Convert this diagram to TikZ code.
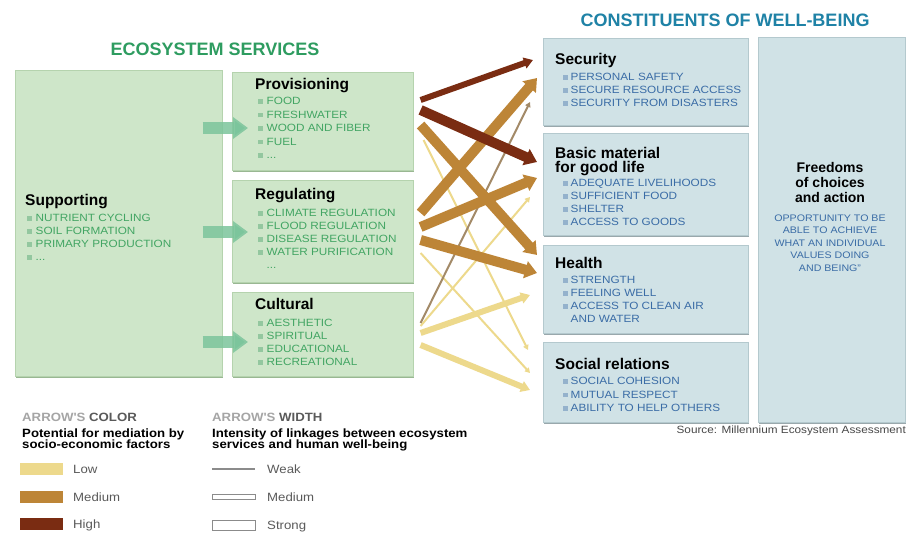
\documentclass[tikz,border=0pt]{standalone}
\usepackage{fontspec}
\setmainfont{Liberation Sans}
\newfontfamily\widefont[FakeStretch=1.12]{Liberation Sans}
\newfontfamily\legfont[FakeStretch=1.1]{Liberation Sans}
\usetikzlibrary{arrows.meta,calc,shadows}

\definecolor{gbg}{HTML}{CEE6C9}
\definecolor{gedge}{HTML}{B5D3AE}
\definecolor{gshadow}{HTML}{8FB087}
\definecolor{bbg}{HTML}{D0E2E6}
\definecolor{bedge}{HTML}{B4C9CE}
\definecolor{bshadow}{HTML}{8E9FA4}
\definecolor{gtitle}{HTML}{2E9C60}
\definecolor{btitle}{HTML}{1F82A6}
\definecolor{gtext}{HTML}{42A563}
\definecolor{gbul}{HTML}{93C79F}
\definecolor{btext}{HTML}{3A6CA6}
\definecolor{bbul}{HTML}{94B2CC}
\definecolor{garrowc}{HTML}{7CC59C}
\definecolor{lowc}{HTML}{EDD98C}
\definecolor{medc}{HTML}{BD8537}
\definecolor{highc}{HTML}{7A2C12}
\definecolor{dullc}{HTML}{A38A68}
\definecolor{leggray}{HTML}{A5A5A5}
\definecolor{legdark}{HTML}{5A5A5A}

% bullets for the item lists
\newcommand\gi{{\color{gbul}\raisebox{1.2pt}{\rule{4.5pt}{4.5pt}}}\hspace{4pt}}
\newcommand\bi{{\color{bbul}\raisebox{1.2pt}{\rule{4.5pt}{4.5pt}}}\hspace{3pt}}

\tikzset{
  gbox/.style={fill=gbg, draw=gedge, line width=0.6pt, anchor=north west, inner sep=0pt,
    drop shadow={shadow xshift=0.4pt, shadow yshift=-1.8pt, fill=gshadow, opacity=0.9}},
  bbox/.style={fill=bbg, draw=bedge, line width=0.6pt, anchor=north west, inner sep=0pt,
    drop shadow={shadow xshift=0.4pt, shadow yshift=-1.8pt, fill=bshadow, opacity=0.9}},
  bigtitle/.style={font=\bfseries\fontsize{18}{20}\selectfont, inner sep=0pt, anchor=base},
  boxtitle/.style={font=\bfseries\fontsize{15.5}{14}\selectfont, inner sep=0pt, anchor=base west, align=left},
  gitems/.style={font=\widefont\fontsize{10.5}{13}\selectfont, text=gtext, inner sep=0pt, anchor=north west, align=left},
  bitems/.style={font=\widefont\fontsize{10.5}{13}\selectfont, text=btext, inner sep=0pt, anchor=north west, align=left},
  garrow/.style={line width=12pt, draw=garrowc, draw opacity=0.85, -{Triangle[width=21pt,length=15pt]}},
  weaklink/.style={line width=2pt, -{Triangle[width=5.5pt,length=5pt]}},
  medlink/.style={line width=6pt, -{Triangle[width=11pt,length=9pt]}},
  stronglink/.style={line width=10pt, -{Triangle[width=17pt,length=12pt]}},
  legtext/.style={font=\legfont\fontsize{12}{12}\selectfont, inner sep=0pt, anchor=base west, align=left},
  swatch/.style={minimum width=43pt, minimum height=12pt, inner sep=0pt, anchor=west},
  widthkey/.style={minimum width=43pt, inner sep=0pt, anchor=west, draw=legdark!70, line width=0.8pt},
}

\begin{document}
\begin{tikzpicture}[x=1pt,y=-1pt]
\useasboundingbox (0,0) rectangle (910,544);
\fill[white] (0,0) rectangle (910,544);

% ---------- ecosystem services ----------
\node[bigtitle, text=gtitle] (estitle) at (215,55.5) {ECOSYSTEM SERVICES};

\node[gbox, minimum width=207pt, minimum height=306pt] (sup) at (15,70) {};
\node[gbox, minimum width=181pt, minimum height=98pt]  (prov) at (232,72) {};
\node[gbox, minimum width=181pt, minimum height=102pt] (reg) at (232,180) {};
\node[gbox, minimum width=181pt, minimum height=84pt]  (cult) at (232,292) {};

% block arrows from supporting services
\draw[garrow] ($(sup.north east)+(-20,58)$)  -- ($(prov.north west)+(16,56)$);
\draw[garrow] ($(sup.north east)+(-20,162)$) -- ($(reg.north west)+(16,52)$);
\draw[garrow] ($(sup.north east)+(-20,272)$) -- ($(cult.north west)+(16,50)$);

\node[boxtitle] (supT) at (25,205.5) {Supporting};
\node[gitems] (supL) at (27,214.3) {\gi NUTRIENT CYCLING\\\gi SOIL FORMATION\\\gi PRIMARY PRODUCTION\\\gi ...};

\node[boxtitle] (provT) at (255,89) {Provisioning};
\node[gitems, font=\widefont\fontsize{10.5}{13.5}\selectfont] (provL) at (258,97.3) {\gi FOOD\\\gi FRESHWATER\\\gi WOOD AND FIBER\\\gi FUEL\\\gi ...};

\node[boxtitle] (regT) at (255,199.5) {Regulating};
\node[gitems] (regL) at (258,209.3) {\gi CLIMATE REGULATION\\\gi FLOOD REGULATION\\\gi DISEASE REGULATION\\\gi WATER PURIFICATION\\\hspace{8.5pt}...};

\node[boxtitle] (cultT) at (255,309.5) {Cultural};
\node[gitems] (cultL) at (258,319.3) {\gi AESTHETIC\\\gi SPIRITUAL\\\gi EDUCATIONAL\\\gi RECREATIONAL};

% ---------- constituents of well-being ----------
\node[bigtitle, text=btitle] (cwtitle) at (725,26.5) {CONSTITUENTS OF WELL-BEING};

\node[bbox, minimum width=205pt, minimum height=87pt]  (sec) at (543,38) {};
\node[bbox, minimum width=205pt, minimum height=102pt] (basic) at (543,133) {};
\node[bbox, minimum width=205pt, minimum height=88pt]  (health) at (543,245) {};
\node[bbox, minimum width=205pt, minimum height=80pt]  (social) at (543,342) {};
\node[bbox, minimum width=147pt, minimum height=385pt] (free) at (758,37) {};

\node[boxtitle] (secT) at (555,64.5) {Security};
\node[bitems] (secL) at (563,73.3) {\bi PERSONAL SAFETY\\\bi SECURE RESOURCE ACCESS\\\bi SECURITY FROM DISASTERS};

% base anchor of a two-line node sits on its last line
\node[boxtitle, font=\bfseries\fontsize{15.5}{14}\selectfont] (basicT) at (555,172.5) {Basic material\\for good life};
\node[bitems] (basicL) at (563,179.3) {\bi ADEQUATE LIVELIHOODS\\\bi SUFFICIENT FOOD\\\bi SHELTER\\\bi ACCESS TO GOODS};

\node[boxtitle] (healthT) at (555,268.5) {Health};
\node[bitems] (healthL) at (563,276.3) {\bi STRENGTH\\\bi FEELING WELL\\\bi ACCESS TO CLEAN AIR\\\hspace{7.5pt}AND WATER};

\node[boxtitle] (socialT) at (555,369.5) {Social relations};
\node[bitems, font=\widefont\fontsize{10.5}{13.5}\selectfont] (socialL) at (563,377.3) {\bi SOCIAL COHESION\\\bi MUTUAL RESPECT\\\bi ABILITY TO HELP OTHERS};

\node[font=\bfseries\fontsize{14}{15}\selectfont, inner sep=0pt, align=center, anchor=north] (freeT) at (830,162) {Freedoms\\of choices\\and action};
\node[font=\widefont\fontsize{9.5}{12.5}\selectfont, text=btext, inner sep=0pt, align=center, anchor=north] (freeL) at (830,214.5) {OPPORTUNITY TO BE\\ABLE TO ACHIEVE\\WHAT AN INDIVIDUAL\\VALUES DOING\\AND BEING”};

\node[font=\widefont\fontsize{10.5}{12}\selectfont, text=legdark!80!black, inner sep=0pt, anchor=base east] (source) at (906,433) {Source: Millennium Ecosystem Assessment};

% ---------- linkages ----------
% low mediation
\draw[lowc, weaklink] ($(prov.north east)+(10,68)$) -- ($(social.north west)+(-15,8)$);
\draw[lowc, weaklink] ($(reg.north east)+(7,73)$)   -- ($(social.north west)+(-13,31)$);
\draw[lowc, weaklink] ($(cult.north east)+(7,34)$)  -- ($(basic.north west)+(-13,64)$);
\draw[lowc, medlink]  ($(cult.north east)+(7,41)$)  -- ($(health.north west)+(-13,50)$);
\draw[lowc, medlink]  ($(cult.north east)+(7,53)$)  -- ($(social.north west)+(-13,48)$);
\draw[dullc, weaklink] ($(cult.north east)+(7,31)$) -- ($(sec.north west)+(-13,64)$);
% medium mediation
\draw[medc, stronglink] ($(reg.north east)+(7,33)$)  -- ($(sec.north west)+(-6,40)$);
\draw[medc, stronglink] ($(reg.north east)+(7,47)$)  -- ($(basic.north west)+(-6,45)$);
\draw[medc, stronglink] ($(reg.north east)+(7,60)$)  -- ($(health.north west)+(-6,28)$);
\draw[medc, stronglink] ($(prov.north east)+(7,53)$) -- ($(health.north west)+(-6,10)$);
% high mediation
\draw[highc, medlink]    ($(prov.north east)+(7,28)$) -- ($(sec.north west)+(-10,22)$);
\draw[highc, stronglink] ($(prov.north east)+(7,38)$) -- ($(basic.north west)+(-6,29)$);

% ---------- legend ----------
\node[legtext] (colhead) at (22,421.7) {\bfseries\textcolor{leggray}{ARROW'S} \textcolor{legdark}{COLOR}};
\node[legtext, font=\legfont\bfseries\fontsize{12}{11.5}\selectfont] (colsub) at (22,448.5) {Potential for mediation by\\socio-economic factors};
\node[swatch, fill=lowc]  (swlow)  at (20,469) {};
\node[swatch, fill=medc]  (swmed)  at (20,497) {};
\node[swatch, fill=highc] (swhigh) at (20,524) {};
\node[legtext, text=legdark] (lowT)  at (73,473.3) {Low};
\node[legtext, text=legdark] (medT)  at (73,501.3) {Medium};
\node[legtext, text=legdark] (highT) at (73,528.3) {High};

\node[legtext] (widhead) at (212,421.7) {\bfseries\textcolor{leggray}{ARROW'S} \textcolor{legdark}{WIDTH}};
\node[legtext, font=\legfont\bfseries\fontsize{12}{11.5}\selectfont] (widsub) at (212,448.5) {Intensity of linkages between ecosystem\\services and human well-being};
\node[widthkey, fill=legdark!70, minimum height=2pt, draw=none] (wweak) at (212,469) {};
\node[widthkey, fill=white, minimum height=5pt]  (wmed)    at (212,497) {};
\node[widthkey, fill=white, minimum height=10pt] (wstrong) at (212,525) {};
\node[legtext, text=legdark] (weakT)   at (267,473.3) {Weak};
\node[legtext, text=legdark] (wmedT)   at (267,501.3) {Medium};
\node[legtext, text=legdark] (strongT) at (267,529.3) {Strong};
\end{tikzpicture}
\end{document}
